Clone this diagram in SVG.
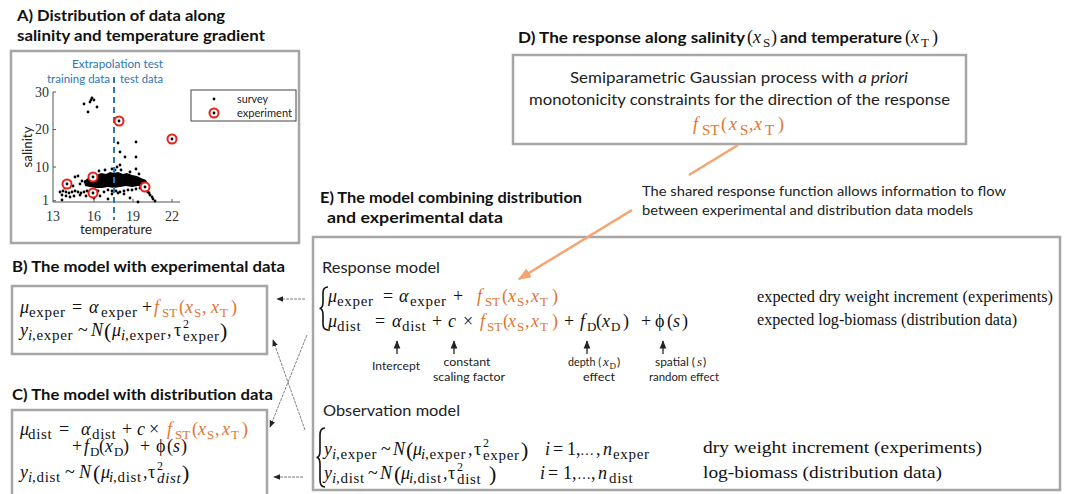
<svg xmlns="http://www.w3.org/2000/svg" width="1068" height="494" viewBox="0 0 1068 494">
<style>
.t{font-family:Lato,"Liberation Sans",sans-serif;font-weight:bold;font-size:15px;fill:#111}
.ss{font-family:Lato,"Liberation Sans",sans-serif;fill:#222}
.m{font-family:"Liberation Serif","DejaVu Serif",serif;font-size:18px;fill:#111}
.i{font-style:italic}
.sb{font-size:15px;letter-spacing:0.7px}
.sc{font-size:13px}
.sp{font-size:12px}
.bp{font-size:22px}
.el{font-size:14px}
.or{fill:#E27430}
.box{fill:none;stroke:#A6A6A6;stroke-width:2.5}
.r{font-family:"Liberation Serif",serif;font-size:17px;fill:#111}
.blue{font-family:Lato,"Liberation Sans",sans-serif;font-size:12px;fill:#2E75B6}
.tick{font-family:"Liberation Serif",serif;font-size:14px;fill:#333}
.dot{fill:#000}
.exp{fill:#fff;stroke:#E8201A;stroke-width:2}
.conn{fill:none;stroke:#7f7f7f;stroke-width:1;stroke-dasharray:3 1}
.up{stroke:#111;stroke-width:1.2}
.brace{fill:none;stroke:#111;stroke-width:1.6}
</style>
<defs>
<marker id="ah" viewBox="0 0 10 10" refX="9" refY="5" markerWidth="7" markerHeight="7" orient="auto"><path d="M0,1 L10,5 L0,9 z" fill="#222"/></marker>
<marker id="ao" viewBox="0 0 10 10" refX="9" refY="5" markerWidth="13" markerHeight="13" markerUnits="userSpaceOnUse" orient="auto"><path d="M0,1 L10,5 L0,9 z" fill="#F4A46E"/></marker>
</defs>
<rect width="1068" height="494" fill="#fff"/>

<g id="panelA">
<text class="t" x="17" y="21" textLength="208" lengthAdjust="spacingAndGlyphs">A) Distribution  of data along</text>
<text class="t" x="17" y="41" textLength="248" lengthAdjust="spacingAndGlyphs">salinity and temperature gradient</text>
<rect class="box" x="11" y="51" width="288" height="192"/>
<text class="blue" x="72" y="68" textLength="91" lengthAdjust="spacingAndGlyphs">Extrapolation test</text>
<text class="blue" x="47" y="83" textLength="63" lengthAdjust="spacingAndGlyphs">training data</text>
<text class="blue" x="120" y="83" textLength="43" lengthAdjust="spacingAndGlyphs">test data</text>
<g stroke="#555" stroke-width="1" fill="none">
<path d="M53,92 V202 H180"/>
<path d="M53,92 h3 M53,129.5 h3 M53,167 h3 M53,200.75 h3 M94,202 v-3 M133,202 v-3 M172,202 v-3"/>
</g>
<text class="tick" x="49" y="97" text-anchor="end">30</text>
<text class="tick" x="49" y="134" text-anchor="end">20</text>
<text class="tick" x="49" y="172" text-anchor="end">10</text>
<text class="tick" x="49" y="205" text-anchor="end">1</text>
<text class="tick" x="53" y="221" text-anchor="middle">13</text>
<text class="tick" x="94" y="221" text-anchor="middle">16</text>
<text class="tick" x="133" y="221" text-anchor="middle">19</text>
<text class="tick" x="172" y="221" text-anchor="middle">22</text>
<text class="ss" font-size="14" x="116" y="234" text-anchor="middle" textLength="72" lengthAdjust="spacingAndGlyphs">temperature</text>
<text class="ss" font-size="14" x="32" y="147" text-anchor="middle" transform="rotate(-90 32 147)" textLength="41" lengthAdjust="spacingAndGlyphs">salinity</text>
<g class="dot">
<path d="M84,181 L88,178 L92,176 L97,175 L101,173 L106,174 L110,172 L114,173 L118,172 L123,174 L127,173 L132,175 L137,176 L141,178 L146,180 L148,184 L144,186 L138,186 L132,187 L126,186 L120,187 L114,188 L108,187 L102,188 L96,188 L90,187 L85,186 Z"/>
<circle cx="84" cy="104" r="1.4"/><circle cx="88" cy="112" r="1.4"/><circle cx="90" cy="102" r="1.4"/><circle cx="92" cy="98" r="1.4"/><circle cx="94" cy="100" r="1.4"/><circle cx="97" cy="107" r="1.4"/><circle cx="91" cy="100" r="1.4"/>
<circle cx="118" cy="143" r="1.4"/><circle cx="120" cy="152" r="1.4"/><circle cx="125" cy="157" r="1.4"/><circle cx="120" cy="165" r="1.4"/><circle cx="136" cy="142" r="1.4"/><circle cx="136" cy="157" r="1.4"/><circle cx="136" cy="169" r="1.4"/><circle cx="115" cy="170" r="1.4"/><circle cx="117" cy="167" r="1.4"/>
<circle cx="60" cy="192" r="1.4"/><circle cx="63" cy="191" r="1.4"/><circle cx="66" cy="192" r="1.4"/><circle cx="69" cy="193" r="1.4"/><circle cx="72" cy="192" r="1.4"/><circle cx="75" cy="191" r="1.4"/><circle cx="78" cy="192" r="1.4"/><circle cx="81" cy="193" r="1.4"/><circle cx="84" cy="192" r="1.4"/><circle cx="87" cy="191" r="1.4"/><circle cx="62" cy="195" r="1.4"/><circle cx="66" cy="196" r="1.4"/><circle cx="74" cy="196" r="1.4"/><circle cx="80" cy="195" r="1.4"/><circle cx="75" cy="177" r="1.4"/><circle cx="78" cy="176" r="1.4"/><circle cx="82" cy="181" r="1.4"/><circle cx="85" cy="182" r="1.4"/><circle cx="80" cy="184" r="1.4"/><circle cx="70" cy="187" r="1.4"/><circle cx="73" cy="186" r="1.4"/><circle cx="65" cy="188" r="1.4"/>
<circle cx="62" cy="200" r="1.4"/><circle cx="70" cy="197" r="1.4"/><circle cx="86" cy="196" r="1.4"/><circle cx="94" cy="198" r="1.4"/><circle cx="108" cy="199" r="1.4"/><circle cx="130" cy="198" r="1.4"/><circle cx="138" cy="202" r="1.4"/><circle cx="100" cy="196" r="1.4"/><circle cx="112" cy="194" r="1.4"/><circle cx="118" cy="193" r="1.4"/><circle cx="124" cy="194" r="1.4"/><circle cx="104" cy="192" r="1.4"/>
<circle cx="143" cy="187" r="1.4"/><circle cx="145" cy="189" r="1.4"/><circle cx="147" cy="191" r="1.4"/><circle cx="149" cy="193" r="1.4"/><circle cx="150" cy="195" r="1.4"/><circle cx="152" cy="197" r="1.4"/><circle cx="153" cy="199" r="1.4"/><circle cx="155" cy="201" r="1.4"/><circle cx="146" cy="190" r="1.4"/><circle cx="148" cy="192" r="1.4"/>
<circle cx="108" cy="190" r="1.4"/><circle cx="112" cy="191" r="1.4"/><circle cx="116" cy="191" r="1.4"/><circle cx="120" cy="192" r="1.4"/><circle cx="124" cy="191" r="1.4"/><circle cx="128" cy="190" r="1.4"/><circle cx="132" cy="190" r="1.4"/><circle cx="136" cy="189" r="1.4"/><circle cx="140" cy="188" r="1.4"/>
<circle cx="99" cy="171" r="1.4"/><circle cx="105" cy="170" r="1.4"/><circle cx="112" cy="169" r="1.4"/><circle cx="121" cy="170" r="1.4"/><circle cx="130" cy="172" r="1.4"/><circle cx="139" cy="174" r="1.4"/><circle cx="92" cy="190" r="1.4"/><circle cx="98" cy="191" r="1.4"/>
</g>
<line x1="114" y1="77" x2="114" y2="220" stroke="#2E75B6" stroke-width="2" stroke-dasharray="6 4"/>
<g>
<circle class="exp" cx="67" cy="184" r="4.5"/><circle class="exp" cx="93" cy="177" r="4.5"/><circle class="exp" cx="93" cy="193" r="4.5"/><circle class="exp" cx="119" cy="121" r="4.5"/><circle class="exp" cx="145" cy="187" r="4.5"/><circle class="exp" cx="172" cy="139" r="4.5"/>
<circle class="dot" cx="67" cy="184" r="1.4"/><circle class="dot" cx="93" cy="177" r="1.4"/><circle class="dot" cx="93" cy="193" r="1.4"/><circle class="dot" cx="119" cy="121" r="1.4"/><circle class="dot" cx="145" cy="187" r="1.4"/><circle class="dot" cx="172" cy="139" r="1.4"/>
</g>
<rect x="191" y="90" width="105" height="31" fill="#fff" stroke="#444" stroke-width="1"/>
<circle class="dot" cx="214" cy="99" r="1.4"/>
<circle class="exp" cx="214" cy="113" r="4.5"/><circle class="dot" cx="214" cy="113" r="1.4"/>
<text class="ss" font-size="11" x="237" y="103" textLength="31" lengthAdjust="spacingAndGlyphs">survey</text>
<text class="ss" font-size="11" x="237" y="117" textLength="55" lengthAdjust="spacingAndGlyphs">experiment</text>
</g>

<g id="panelB">
<text class="t" x="12" y="272" textLength="273" lengthAdjust="spacingAndGlyphs">B) The model with experimental data</text>
<rect class="box" x="12" y="286" width="255" height="68"/>
<text class="m"><tspan x="20" y="313" class="i">μ</tspan><tspan x="29" y="317" class="sb">exper</tspan><tspan x="72" y="313">=</tspan><tspan x="89" y="313" class="i">α</tspan><tspan x="101" y="317" class="sb">exper</tspan><tspan x="142" y="313">+</tspan><tspan x="154" y="313" class="i or">f</tspan><tspan x="162" y="317" class="sc or">ST</tspan><tspan x="179" y="313" class="or">(</tspan><tspan x="185" y="313" class="i or">x</tspan><tspan x="194" y="317" class="sc or">S</tspan><tspan x="202" y="313" class="or">,</tspan><tspan x="211" y="313" class="i or">x</tspan><tspan x="220" y="317" class="sc or">T</tspan><tspan x="231" y="313" class="or">)</tspan></text>
<text class="m"><tspan x="20" y="336" class="i">y</tspan><tspan x="28" y="340" class="sb i">i</tspan><tspan x="32" y="340" class="sb">,exper</tspan><tspan x="78" y="336">~</tspan><tspan x="91" y="336" class="i">N</tspan><tspan x="104" y="338" class="bp">(</tspan><tspan x="112" y="336" class="i">μ</tspan><tspan x="121" y="340" class="sb i">i</tspan><tspan x="125" y="340" class="sb">,exper</tspan><tspan x="167" y="336">,</tspan><tspan x="174" y="336">τ</tspan><tspan x="183" y="328" class="sp">2</tspan><tspan x="183" y="341" class="sb">exper</tspan><tspan x="220" y="338" class="bp">)</tspan></text>
</g>

<g id="panelC">
<text class="t" x="12" y="400" textLength="261" lengthAdjust="spacingAndGlyphs">C) The model with distribution  data</text>
<rect class="box" x="12" y="410" width="255" height="100"/>
<text class="m"><tspan x="20" y="435" class="i">μ</tspan><tspan x="28" y="439" class="sb">dist</tspan><tspan x="59" y="435">=</tspan><tspan x="81" y="435" class="i">α</tspan><tspan x="92" y="439" class="sb">dist</tspan><tspan x="122" y="435">+</tspan><tspan x="137" y="435" class="i">c</tspan><tspan x="149" y="435">×</tspan><tspan x="167" y="435" class="i or">f</tspan><tspan x="175" y="439" class="sc or">ST</tspan><tspan x="192" y="435" class="or">(</tspan><tspan x="198" y="435" class="i or">x</tspan><tspan x="207" y="439" class="sc or">S</tspan><tspan x="215" y="435" class="or">,</tspan><tspan x="222" y="435" class="i or">x</tspan><tspan x="231" y="439" class="sc or">T</tspan><tspan x="242" y="435" class="or">)</tspan></text>
<text class="m"><tspan x="72" y="452">+</tspan><tspan x="84" y="452" class="i">f</tspan><tspan x="90" y="456" class="sc">D</tspan><tspan x="99" y="452">(</tspan><tspan x="105" y="452" class="i">x</tspan><tspan x="114" y="456" class="sc">D</tspan><tspan x="123" y="452">)</tspan><tspan x="140" y="452">+</tspan><tspan x="156" y="452">ϕ</tspan><tspan x="167" y="452">(</tspan><tspan x="173" y="452" class="i">s</tspan><tspan x="181" y="452">)</tspan></text>
<text class="m"><tspan x="20" y="478" class="i">y</tspan><tspan x="28" y="482" class="sb i">i</tspan><tspan x="32" y="482" class="sb">,dist</tspan><tspan x="65" y="478">~</tspan><tspan x="79" y="478" class="i">N</tspan><tspan x="93" y="480" class="bp">(</tspan><tspan x="101" y="478" class="i">μ</tspan><tspan x="109" y="482" class="sb i">i</tspan><tspan x="113" y="482" class="sb">,dist</tspan><tspan x="143" y="478">,</tspan><tspan x="148" y="478">τ</tspan><tspan x="157" y="470" class="sp">2</tspan><tspan x="157" y="483" class="sb i">dist</tspan><tspan x="182" y="480" class="bp">)</tspan></text>
</g>

<g id="panelD">
<text class="t" x="518" y="43" textLength="227" lengthAdjust="spacingAndGlyphs">D) The response along salinity</text>
<text class="m" font-size="17"><tspan x="747" y="43">(</tspan><tspan x="753" y="43" class="i">x</tspan><tspan x="763" y="47" class="sc">S</tspan><tspan x="771" y="43">)</tspan></text>
<text class="t" x="780" y="43" textLength="122" lengthAdjust="spacingAndGlyphs">and temperature</text>
<text class="m" font-size="17"><tspan x="905" y="43">(</tspan><tspan x="911" y="43" class="i">x</tspan><tspan x="921" y="47" class="sc">T</tspan><tspan x="932" y="43">)</tspan></text>
<rect class="box" x="513" y="55" width="453" height="89"/>
<text class="ss" font-size="16" x="570" y="83" textLength="338" lengthAdjust="spacingAndGlyphs">Semiparametric Gaussian process with <tspan font-style="italic">a priori</tspan></text>
<text class="ss" font-size="16" x="529" y="105" textLength="421" lengthAdjust="spacingAndGlyphs">monotonicity constraints for the direction of the response</text>
<text class="m or" font-size="20"><tspan x="693" y="130" class="i">f</tspan><tspan x="702" y="135" font-size="15">ST</tspan><tspan x="721" y="130">(</tspan><tspan x="729" y="130" class="i">x</tspan><tspan x="740" y="135" font-size="15">S</tspan><tspan x="749" y="130">,</tspan><tspan x="754" y="130" class="i">x</tspan><tspan x="765" y="135" font-size="15">T</tspan><tspan x="778" y="130">)</tspan></text>
</g>

<g id="note">
<text class="ss" font-size="14" x="642" y="196" textLength="364" lengthAdjust="spacingAndGlyphs">The shared response function allows information  to flow</text>
<text class="ss" font-size="14" x="642" y="215" textLength="331" lengthAdjust="spacingAndGlyphs">between experimental and distribution data models</text>
</g>

<g id="panelE">
<text class="t" x="320" y="203" textLength="262" lengthAdjust="spacingAndGlyphs">E) The model combining distribution</text>
<text class="t" x="327" y="223" textLength="176" lengthAdjust="spacingAndGlyphs">and experimental data</text>
<rect class="box" x="313" y="237" width="747" height="253"/>
<text class="ss" font-size="16" x="322" y="273" textLength="118" lengthAdjust="spacingAndGlyphs">Response model</text>
<path class="brace" d="M328,287 Q323,287 323,293 L323,302 Q323,308.5 319.5,308.5 Q323,308.5 323,315 L323,324 Q323,330 328,330"/>
<text class="m"><tspan x="328" y="302" class="i">μ</tspan><tspan x="337" y="306" class="sb">exper</tspan><tspan x="383" y="302">=</tspan><tspan x="399" y="302" class="i">α</tspan><tspan x="410" y="306" class="sb">exper</tspan><tspan x="453" y="302">+</tspan><tspan x="477" y="302" class="i or">f</tspan><tspan x="485" y="306" class="sc or">ST</tspan><tspan x="502" y="302" class="or">(</tspan><tspan x="508" y="302" class="i or">x</tspan><tspan x="517" y="306" class="sc or">S</tspan><tspan x="525" y="302" class="or">,</tspan><tspan x="531" y="302" class="i or">x</tspan><tspan x="540" y="306" class="sc or">T</tspan><tspan x="552" y="302" class="or">)</tspan></text>
<text class="m"><tspan x="328" y="327" class="i">μ</tspan><tspan x="337" y="331" class="sb">dist</tspan><tspan x="375" y="327">=</tspan><tspan x="392" y="327" class="i">α</tspan><tspan x="402" y="331" class="sb">dist</tspan><tspan x="432" y="327">+</tspan><tspan x="448" y="327" class="i">c</tspan><tspan x="463" y="327">×</tspan><tspan x="480" y="327" class="i or">f</tspan><tspan x="487" y="331" class="sc or">ST</tspan><tspan x="503" y="327" class="or">(</tspan><tspan x="508" y="327" class="i or">x</tspan><tspan x="517" y="331" class="sc or">S</tspan><tspan x="525" y="327" class="or">,</tspan><tspan x="531" y="327" class="i or">x</tspan><tspan x="540" y="331" class="sc or">T</tspan><tspan x="552" y="327" class="or">)</tspan><tspan x="564" y="327">+</tspan><tspan x="580" y="327" class="i">f</tspan><tspan x="587" y="331" class="sc">D</tspan><tspan x="596" y="327">(</tspan><tspan x="602" y="327" class="i">x</tspan><tspan x="611" y="331" class="sc">D</tspan><tspan x="623" y="327">)</tspan><tspan x="641" y="327">+</tspan><tspan x="655" y="327">ϕ</tspan><tspan x="667" y="327">(</tspan><tspan x="673" y="327" class="i">s</tspan><tspan x="682" y="327">)</tspan></text>
<text class="r" x="757" y="302" textLength="296" lengthAdjust="spacingAndGlyphs">expected dry weight increment (experiments)</text>
<text class="r" x="757" y="325" textLength="260" lengthAdjust="spacingAndGlyphs">expected log-biomass (distribution data)</text>
<g class="ss" font-size="12" text-anchor="middle">
<text x="396" y="370" textLength="48" lengthAdjust="spacingAndGlyphs">Intercept</text>
<text x="467" y="366" textLength="47" lengthAdjust="spacingAndGlyphs">constant</text>
<text x="469" y="381" textLength="72" lengthAdjust="spacingAndGlyphs">scaling factor</text>
<text x="599" y="381" textLength="32" lengthAdjust="spacingAndGlyphs">effect</text>
<text x="684" y="381" textLength="70" lengthAdjust="spacingAndGlyphs">random  effect</text>
</g>
<text class="ss" font-size="12" x="568" y="366" textLength="33" lengthAdjust="spacingAndGlyphs">depth (</text>
<text class="ss" font-size="12"><tspan x="603" y="366" font-family="Liberation Serif,serif" font-style="italic" font-size="13">x</tspan><tspan x="609.5" y="369" font-family="Liberation Serif,serif" font-size="9">D</tspan><tspan x="617" y="366">)</tspan></text>
<text class="ss" font-size="12" x="655" y="366" textLength="40" lengthAdjust="spacingAndGlyphs">spatial (</text>
<text class="ss" font-size="12"><tspan x="697" y="366" font-family="Liberation Serif,serif" font-style="italic" font-size="13">s</tspan><tspan x="703" y="366">)</tspan></text>
<text class="ss" font-size="16" x="323" y="416" textLength="137" lengthAdjust="spacingAndGlyphs">Observation model</text>
<path class="brace" d="M325,428 Q320,428 320,435 L320,451 Q320,457.5 316.5,457.5 Q320,457.5 320,464 L320,480 Q320,487 325,487"/>
<text class="m"><tspan x="324" y="455" class="i">y</tspan><tspan x="332" y="459" class="sb i">i</tspan><tspan x="336" y="459" class="sb">,exper</tspan><tspan x="381" y="455">~</tspan><tspan x="393" y="455" class="i">N</tspan><tspan x="406" y="457" class="bp">(</tspan><tspan x="413" y="455" class="i">μ</tspan><tspan x="421" y="459" class="sb i">i</tspan><tspan x="425" y="459" class="sb">,exper</tspan><tspan x="468" y="455">,</tspan><tspan x="474" y="455">τ</tspan><tspan x="483" y="447" class="sp">2</tspan><tspan x="483" y="460" class="sb">exper</tspan><tspan x="521" y="457" class="bp">)</tspan><tspan x="545" y="455" class="i">i</tspan><tspan x="553" y="455">=</tspan><tspan x="567" y="455">1,</tspan><tspan x="580" y="455" class="el">…</tspan><tspan x="596" y="455">,</tspan><tspan x="603" y="455" class="i">n</tspan><tspan x="613" y="459" class="sb">exper</tspan></text>
<text class="m"><tspan x="324" y="479" class="i">y</tspan><tspan x="332" y="483" class="sb i">i</tspan><tspan x="336" y="483" class="sb">,dist</tspan><tspan x="368" y="479">~</tspan><tspan x="380" y="479" class="i">N</tspan><tspan x="394" y="481" class="bp">(</tspan><tspan x="401" y="479" class="i">μ</tspan><tspan x="409" y="483" class="sb i">i</tspan><tspan x="413" y="483" class="sb">,dist</tspan><tspan x="443" y="479">,</tspan><tspan x="448" y="479">τ</tspan><tspan x="457" y="471" class="sp">2</tspan><tspan x="457" y="484" class="sb">dist</tspan><tspan x="489" y="481" class="bp">)</tspan><tspan x="540" y="479" class="i">i</tspan><tspan x="548" y="479">=</tspan><tspan x="563" y="479">1,</tspan><tspan x="577" y="479" class="el">…</tspan><tspan x="591" y="479">,</tspan><tspan x="598" y="479" class="i">n</tspan><tspan x="609" y="483" class="sb">dist</tspan></text>
<text class="r" x="703" y="453" textLength="279" lengthAdjust="spacingAndGlyphs">dry weight increment (experiments)</text>
<text class="r" x="703" y="478" textLength="239" lengthAdjust="spacingAndGlyphs">log-biomass  (distribution data)</text>
</g>

<g id="connectors">
<line class="up" x1="397" y1="354" x2="397" y2="341" marker-end="url(#ah)"/>
<line class="up" x1="454" y1="354" x2="454" y2="341" marker-end="url(#ah)"/>
<line class="up" x1="587" y1="354" x2="587" y2="341" marker-end="url(#ah)"/>
<line class="up" x1="663" y1="354" x2="663" y2="341" marker-end="url(#ah)"/>
<line class="conn" x1="305" y1="299" x2="277" y2="299" marker-end="url(#ah)"/>
<line class="conn" x1="303" y1="477" x2="274" y2="477" marker-end="url(#ah)"/>
<line class="conn" x1="307" y1="335" x2="270" y2="427" marker-end="url(#ah)"/>
<line class="conn" x1="305" y1="430" x2="273" y2="340" marker-end="url(#ah)"/>
<line x1="738" y1="145" x2="689" y2="175" stroke="#F4A46E" stroke-width="2.5"/>
<line x1="632" y1="210" x2="519" y2="279" stroke="#F4A46E" stroke-width="2.5" marker-end="url(#ao)"/>
</g>
</svg>
